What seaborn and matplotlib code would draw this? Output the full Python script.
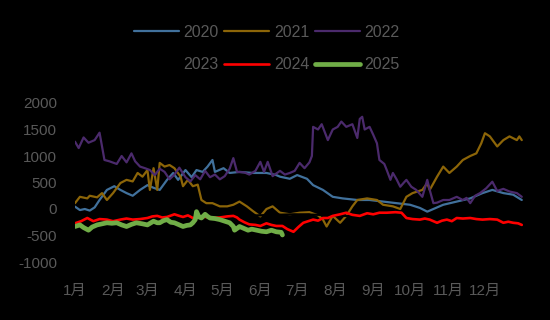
import matplotlib
matplotlib.use("Agg")
import matplotlib.pyplot as plt
import seaborn as sns
import pandas as pd

# ---------------- data ----------------
month_labels = ["1月", "2月", "3月", "4月", "5月", "6月", "7月", "8月", "9月", "10月", "11月", "12月"]
month_days = [1, 32, 60, 91, 121, 152, 182, 213, 244, 274, 305, 335]
y_ticks = [-1000, -500, 0, 500, 1000, 1500, 2000]

days_2020 = [1, 5, 9, 13, 17, 21, 27, 33, 38, 43, 48, 54, 60, 65, 70, 76, 81, 85, 91, 96, 100, 105, 109, 113, 115,
             122, 127, 135, 146, 157, 165, 168, 176, 182, 190, 195, 203, 211, 219, 231, 241, 252, 263, 274, 282,
             288, 293, 301, 312, 323, 333, 341, 350, 358, 365]
vals_2020 = [45, -20, 0, -30, 30, 170, 360, 430, 360, 300, 250, 360, 450, 400, 360, 550, 680, 550, 735, 600, 735,
             700, 800, 925, 700, 770, 680, 700, 680, 680, 640, 610, 570, 640, 570, 450, 360, 230, 200, 170, 170,
             140, 110, 80, 20, -50, 0, 80, 140, 200, 300, 360, 300, 270, 170]

days_2021 = [1, 5, 11, 13, 19, 23, 27, 32, 38, 43, 48, 52, 56, 60, 62, 65, 68, 70, 74, 78, 82, 87, 89, 93, 97, 101,
             104, 108, 113, 119, 125, 130, 135, 141, 146, 152, 157, 162, 168, 176, 184, 192, 199, 203, 206, 211,
             217, 222, 227, 231, 239, 247, 252, 260, 266, 271, 276, 284, 288, 290, 296, 301, 306, 312, 317, 323,
             328, 332, 335, 339, 345, 350, 355, 361, 363, 365]
vals_2021 = [110, 230, 200, 250, 220, 300, 170, 300, 490, 550, 520, 680, 610, 735, 360, 770, 360, 870, 800, 830,
             770, 610, 430, 550, 430, 460, 170, 110, 110, 50, 50, 80, 140, 50, -40, -140, 0, 50, -70, -100, -70,
             -60, -120, -200, -330, -130, -260, -130, 50, 170, 200, 170, 80, 50, 0, 230, 300, 360, 490, 360, 610,
             800, 680, 800, 925, 1000, 1050, 1240, 1430, 1370, 1180, 1300, 1370, 1300, 1370, 1300]

days_2022 = [1, 4, 8, 12, 17, 21, 25, 29, 35, 39, 43, 47, 50, 54, 58, 62, 66, 70, 74, 78, 82, 86, 91, 95, 99, 103,
             107, 111, 115, 119, 123, 127, 130, 133, 139, 143, 148, 152, 155, 158, 162, 168, 172, 176, 180, 184,
             188, 192, 194, 195, 199, 202, 207, 211, 215, 218, 222, 227, 231, 233, 235, 237, 241, 244, 247, 249,
             253, 255, 258, 260, 263, 266, 269, 271, 275, 279, 284, 288, 290, 293, 296, 301, 306, 312, 317, 320,
             323, 327, 331, 336, 341, 345, 350, 355, 361, 365]
vals_2022 = [1270, 1150, 1350, 1250, 1300, 1440, 925, 900, 850, 1000, 880, 1050, 900, 800, 770, 735, 640, 760, 700,
             560, 650, 780, 600, 520, 640, 560, 720, 600, 650, 560, 620, 760, 960, 700, 690, 650, 720, 890, 700,
             890, 620, 720, 650, 680, 720, 870, 770, 880, 1000, 1550, 1500, 1600, 1300, 1500, 1550, 1650, 1550,
             1600, 1340, 1700, 1740, 1500, 1550, 1400, 1240, 925, 850, 735, 550, 680, 560, 420, 500, 550, 420, 360,
             230, 550, 360, 110, 120, 170, 170, 230, 170, 210, 110, 250, 300, 390, 515, 340, 380, 330, 300, 230]

days_2023 = [1, 30, 60, 90, 120, 150, 180, 200, 220, 250, 280, 310, 340, 365]
vals_2023 = [-200, -180, -170, -160, -150, -120, -100, -110, -130, -150, -170, -190, -200, -220]

days_2024 = [1, 6, 11, 16, 21, 27, 32, 38, 43, 48, 54, 60, 64, 68, 72, 76, 82, 86, 89, 93, 97, 103, 108, 113, 119,
             125, 130, 133, 135, 139, 143, 148, 152, 157, 161, 165, 170, 174, 179, 183, 187, 191, 195, 199, 203,
             207, 211, 217, 222, 227, 233, 239, 244, 249, 255, 262, 267, 271, 276, 282, 286, 290, 296, 300, 304,
             308, 312, 317, 323, 328, 333, 339, 345, 350, 354, 358, 362, 365]
vals_2024 = [-270, -230, -170, -230, -190, -200, -230, -200, -180, -200, -190, -170, -140, -130, -160, -150, -100,
             -130, -150, -120, -170, -150, -150, -170, -160, -140, -130, -160, -200, -250, -290, -300, -320, -270,
             -300, -320, -320, -380, -430, -340, -260, -230, -200, -220, -170, -170, -130, -100, -70, -110, -130,
             -80, -100, -70, -70, -60, -70, -170, -190, -200, -180, -200, -260, -220, -200, -230, -170, -180, -170,
             -190, -200, -190, -200, -260, -240, -260, -270, -300]

days_2025 = [1, 5, 8, 12, 15, 19, 23, 27, 31, 35, 39, 43, 47, 51, 56, 60, 65, 68, 70, 73, 76, 79, 82, 86, 89, 92,
             95, 97, 99, 100, 102, 104, 107, 109, 111, 115, 119, 123, 127, 130, 131, 134, 135, 139, 142, 145, 149,
             153, 157, 161, 165, 169, 170]
vals_2025 = [-330, -300, -350, -400, -340, -300, -280, -260, -270, -260, -300, -330, -290, -260, -280, -300, -230,
             -260, -260, -220, -200, -250, -260, -300, -330, -310, -300, -260, -200, -50, -150, -170, -100, -140,
             -170, -180, -200, -230, -260, -330, -400, -350, -330, -370, -400, -380, -400, -420, -430, -400, -430,
             -440, -490]

series = [
    ("2020", days_2020, vals_2020, "#41719C", 1.6),
    ("2021", days_2021, vals_2021, "#8C6508", 1.6),
    ("2022", days_2022, vals_2022, "#4B2A6C", 1.6),
    ("2023", days_2023, vals_2023, "#000000", 1.6),
    ("2024", days_2024, vals_2024, "#FF0000", 1.9),
    ("2025", days_2025, vals_2025, "#70AD47", 3.4),
]

# ---------------- style ----------------
sns.set_theme(style="dark")
plt.rcParams["font.family"] = ["Liberation Sans", "Noto Sans CJK SC", "DejaVu Sans"]
plt.rcParams["axes.unicode_minus"] = False

fig = plt.figure(figsize=(5.5, 3.2), dpi=100, facecolor="black")
ax = fig.add_axes([75 / 550, 58 / 320, 448 / 550, 159 / 320])
ax.set_facecolor("black")

handles = {}
for name, d, v, c, lw in series:
    df = pd.DataFrame({"day": d, "value": v})
    sns.lineplot(data=df, x="day", y="value", ax=ax, color=c, linewidth=lw,
                 solid_capstyle="round", label=name, legend=False)
    handles[name] = ax.lines[-1]

ax.set_xlim(1, 366)
ax.set_ylim(-1000, 2000)
ax.set_xticks(month_days)
ax.set_xticklabels(month_labels)
ax.set_yticks(y_ticks)
ax.set_yticklabels([str(t) for t in y_ticks])
ax.tick_params(axis="x", colors="#595959", labelsize=11, pad=16, length=0)
ax.tick_params(axis="y", colors="#595959", labelsize=11, pad=13, length=0)
ax.set_xlabel("")
ax.set_ylabel("")
ax.grid(False)
for s in ax.spines.values():
    s.set_visible(False)

order = ["2020", "2023", "2021", "2024", "2022", "2025"]
leg = fig.legend([handles[o] for o in order], order, loc="center", bbox_to_anchor=(0.485, 0.848),
                 ncol=3, frameon=False, fontsize=11.5, labelcolor="#595959",
                 handlelength=2.8, handletextpad=0.3, columnspacing=0.35, labelspacing=1.1)

fig.savefig("out.png", dpi=100, facecolor="black")
